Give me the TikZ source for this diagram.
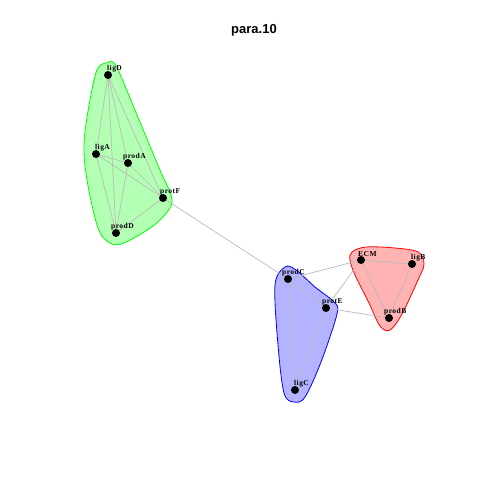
\documentclass[tikz,border=0pt]{standalone}
\usepackage{fontspec}
\setmainfont{Liberation Serif}
\newfontfamily\titlefont{Liberation Sans}
\newfontfamily\labelfont[LetterSpace=6]{Liberation Serif}
\begin{document}
\begin{tikzpicture}[x=1pt,y=-1pt,
  lbl/.style={anchor=south west,inner sep=0pt,font=\labelfont\bfseries\fontsize{7.5}{8}\selectfont},
  edge/.style={draw=black!27,line width=0.7pt},
  hull/.style={line width=0.8pt,smooth cycle,tension=0.55}]
\definecolor{gfill}{RGB}{179,255,179}
\definecolor{rfill}{RGB}{255,179,179}
\definecolor{bfill}{RGB}{179,179,255}
\definecolor{gline}{RGB}{0,255,0}
\path[use as bounding box,fill=white] (0,0) rectangle (480,480);
\node[font=\titlefont\bfseries\fontsize{13}{15}\selectfont] (title) at (254,30) {para.10};
% coordinates
\coordinate (ligD) at (108,75);
\coordinate (ligA) at (96,154);
\coordinate (prodA) at (128,163);
\coordinate (protF) at (163,198);
\coordinate (prodD) at (116,233);
\coordinate (prodC) at (288,279);
\coordinate (protE) at (326,308);
\coordinate (ligC) at (295,390);
\coordinate (ECM) at (361,260);
\coordinate (ligB) at (412,264);
\coordinate (prodB) at (389,318);
% hulls
\draw[hull,draw=gline,fill=gfill] plot[hull] coordinates {(106,63) (116,66) (137,115) (160,170) (171,195) (170,208) (153,226) (124,243) (110,243) (98,228) (87,180) (84,143) (90,100) (97,70)};
\draw[hull,draw=blue,fill=bfill] plot[hull] coordinates {(285,267) (296,270) (315,287) (334,302) (337,314) (321,362) (305,397) (294,402) (284,393) (278,345) (275,285)};
\draw[hull,draw=red,fill=rfill] plot[hull] coordinates {(352,252) (366,247) (395,248) (418,252) (424,264) (418,280) (402,314) (390,330) (380,326) (369,303) (355,275) (350,260)};
% edges
\draw[edge] (ligD) -- (ligA);
\draw[edge] (ligD) -- (prodA);
\draw[edge] (ligD) -- (protF);
\draw[edge] (ligD) -- (prodD);
\draw[edge] (ligA) -- (prodA);
\draw[edge] (ligA) -- (protF);
\draw[edge] (ligA) -- (prodD);
\draw[edge] (prodA) -- (protF);
\draw[edge] (prodA) -- (prodD);
\draw[edge] (protF) -- (prodD);
\draw[edge] (protF) -- (prodC);
\draw[edge] (prodC) -- (protE);
\draw[edge] (prodC) -- (ligC);
\draw[edge] (protE) -- (ligC);
\draw[edge] (prodC) -- (ECM);
\draw[edge] (protE) -- (ECM);
\draw[edge] (protE) -- (prodB);
\draw[edge] (ECM) -- (ligB);
\draw[edge] (ECM) -- (prodB);
\draw[edge] (ligB) -- (prodB);
% dots
\foreach \v in {ligD,ligA,prodA,protF,prodD,prodC,protE,ligC,ECM,ligB,prodB}
  \fill (\v) circle (4pt);
% labels
\node[lbl] (tligD) at ([xshift=-1pt,yshift=3pt]ligD) {ligD};
\node[lbl] (tligA) at ([xshift=-1pt,yshift=3pt]ligA) {ligA};
\node[lbl] (tprodA) at ([xshift=-5pt,yshift=3pt]prodA) {prodA};
\node[lbl] (tprotF) at ([xshift=-3pt,yshift=3pt]protF) {protF};
\node[lbl] (tprodD) at ([xshift=-5pt,yshift=3pt]prodD) {prodD};
\node[lbl] (tprodC) at ([xshift=-6pt,yshift=3pt]prodC) {prodC};
\node[lbl] (tprotE) at ([xshift=-4pt,yshift=3pt]protE) {protE};
\node[lbl] (tligC) at ([xshift=-1pt,yshift=3pt]ligC) {ligC};
\node[lbl] (tECM) at ([xshift=-3pt,yshift=3pt]ECM) {ECM};
\node[lbl] (tligB) at ([xshift=-1pt,yshift=3pt]ligB) {ligB};
\node[lbl] (tprodB) at ([xshift=-5pt,yshift=3pt]prodB) {prodB};
\end{tikzpicture}
\end{document}
